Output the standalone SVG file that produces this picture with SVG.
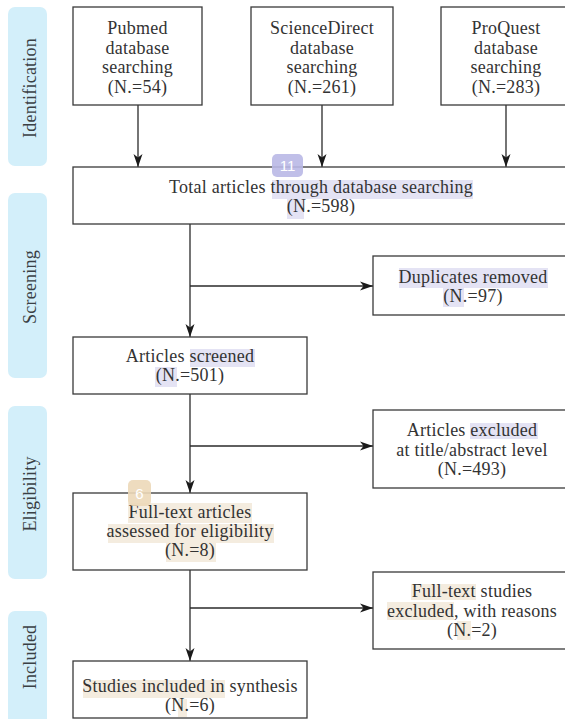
<svg xmlns="http://www.w3.org/2000/svg" width="565" height="719" viewBox="0 0 565 719">
<defs>
<style>
.bar{fill:#d3effa;}
.box{fill:#ffffff;stroke:#3a3a3a;stroke-width:1.3;}
.t{font-size:18px;fill:#333333;text-anchor:middle;letter-spacing:0.25px;}
.lab{font-size:18px;fill:#3a3f44;text-anchor:middle;letter-spacing:0.2px;}
.ln{stroke:#2a2a2a;stroke-width:1.3;fill:none;}
.arr{marker-end:url(#ah);}
.hp{fill:#e4e3f4;}
.hb{fill:#f4ecdf;}
.badge{font-size:15px;fill:#ffffff;text-anchor:middle;}
</style>
<marker id="ah" markerUnits="userSpaceOnUse" markerWidth="13" markerHeight="10" refX="13" refY="5" orient="auto">
<path d="M0,0.5 L13,5 L0,9.5 L3.5,5 Z" fill="#1a1a1a"/>
</marker>
</defs>

<g font-family="Liberation Serif, Times New Roman, DejaVu Serif, serif">
<g id="stages">
<g id="stage-identification"><rect class="bar" x="8" y="7" width="39" height="159" rx="7"/><text class="lab" transform="translate(36,88) rotate(-90)">Identification</text></g>
<g id="stage-screening"><rect class="bar" x="8" y="193" width="39" height="185" rx="7"/><text class="lab" transform="translate(36,287) rotate(-90)">Screening</text></g>
<g id="stage-eligibility"><rect class="bar" x="8" y="406" width="39" height="173" rx="7"/><text class="lab" transform="translate(36,494) rotate(-90)">Eligibility</text></g>
<g id="stage-included"><rect class="bar" x="8" y="611" width="39" height="120" rx="7"/><text class="lab" transform="translate(36,657) rotate(-90)">Included</text></g>
</g>

<g id="connectors">
<line class="ln arr" x1="138" y1="105" x2="138" y2="167"/>
<line class="ln arr" x1="322" y1="105" x2="322" y2="167"/>
<line class="ln arr" x1="506" y1="105" x2="506" y2="167"/>
<line class="ln arr" x1="190" y1="224" x2="190" y2="337"/>
<line class="ln arr" x1="190" y1="286" x2="373" y2="286"/>
<line class="ln arr" x1="190" y1="394" x2="190" y2="493"/>
<line class="ln arr" x1="190" y1="446" x2="373" y2="446"/>
<line class="ln arr" x1="190" y1="570" x2="190" y2="661"/>
<line class="ln arr" x1="190" y1="608" x2="373" y2="608"/>
</g>

<g id="pubmed">
<rect class="box" x="73" y="7" width="129" height="98"/>
<text class="t" x="137.5" y="34">Pubmed</text>
<text class="t" x="137.5" y="53.7">database</text>
<text class="t" x="137.5" y="73.4">searching</text>
<text class="t" x="137.5" y="93.1">(N.=54)</text>
</g>

<g id="sciencedirect">
<rect class="box" x="251" y="7" width="142" height="98"/>
<text class="t" x="322" y="34">ScienceDirect</text>
<text class="t" x="322" y="53.7">database</text>
<text class="t" x="322" y="73.4">searching</text>
<text class="t" x="322" y="93.1">(N.=261)</text>
</g>

<g id="proquest">
<rect class="box" x="441" y="7" width="130" height="98"/>
<text class="t" x="506" y="34">ProQuest</text>
<text class="t" x="506" y="53.7">database</text>
<text class="t" x="506" y="73.4">searching</text>
<text class="t" x="506" y="93.1">(N.=283)</text>
</g>

<g id="total">
<rect class="box" x="73" y="167" width="498" height="57"/>
<rect class="hp" x="272" y="180" width="201" height="19"/>
<rect class="hp" x="287" y="199" width="17" height="20"/>
<text class="t" x="321" y="193">Total articles through database searching</text>
<text class="t" x="321" y="212">(N.=598)</text>
<g id="badge-11" font-family="Liberation Sans, Arial, sans-serif"><rect x="272" y="154" width="31" height="23" rx="5" fill="#b9b8e6" opacity="0.9"/><text class="badge" x="287.5" y="171">11</text></g>
</g>

<g id="duplicates">
<rect class="box" x="373" y="256" width="200" height="59"/>
<rect class="hp" x="399" y="268" width="149" height="20"/>
<rect class="hp" x="443" y="288" width="21" height="19"/>
<text class="t" x="473" y="283">Duplicates removed</text>
<text class="t" x="473" y="302">(N.=97)</text>
</g>

<g id="screened">
<rect class="box" x="73" y="337" width="234" height="57"/>
<rect class="hp" x="190" y="349" width="65" height="18"/>
<rect class="hp" x="155" y="367" width="22" height="20"/>
<text class="t" x="190" y="362">Articles screened</text>
<text class="t" x="190" y="381">(N.=501)</text>
</g>

<g id="excluded-abstract">
<rect class="box" x="373" y="410" width="200" height="78"/>
<rect class="hp" x="470" y="423" width="68" height="16"/>
<text class="t" x="472" y="436">Articles excluded</text>
<text class="t" x="472" y="456">at title/abstract level</text>
<text class="t" x="472" y="475">(N.=493)</text>
</g>

<g id="fulltext">
<rect class="box" x="73" y="493" width="234" height="77"/>
<rect class="hb" x="128" y="503" width="124" height="20"/>
<rect class="hb" x="108" y="524" width="166" height="19"/>
<rect class="hb" x="166" y="543" width="50" height="19"/>
<text class="t" x="190" y="518">Full-text articles</text>
<text class="t" x="190" y="537">assessed for eligibility</text>
<text class="t" x="190" y="556">(N.=8)</text>
<g id="badge-6" font-family="Liberation Sans, Arial, sans-serif"><rect x="128" y="480" width="23" height="26" rx="5" fill="#ecd8b8" opacity="0.9"/><text class="badge" x="139.5" y="499">6</text></g>
</g>

<g id="excluded-fulltext">
<rect class="box" x="373" y="572" width="200" height="77"/>
<rect class="hb" x="411" y="584" width="65" height="16"/>
<rect class="hb" x="387" y="602" width="67" height="18"/>
<rect class="hb" x="457" y="621" width="14" height="19"/>
<text class="t" x="472" y="597">Full-text studies</text>
<text class="t" x="472" y="617">excluded, with reasons</text>
<text class="t" x="472" y="636">(N.=2)</text>
</g>

<g id="included">
<rect class="box" x="73" y="661" width="234" height="57"/>
<rect class="hb" x="83" y="680" width="142" height="18"/>
<rect class="hb" x="178" y="699" width="9" height="18"/>
<text class="t" x="190" y="692">Studies included in synthesis</text>
<text class="t" x="190" y="711">(N.=6)</text>
</g>
</g>
</svg>
